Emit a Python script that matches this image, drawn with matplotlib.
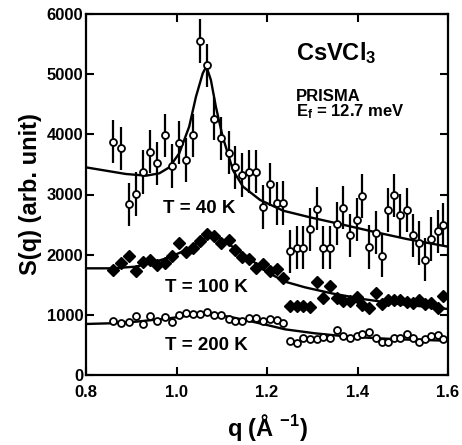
import matplotlib
matplotlib.use("Agg")
import matplotlib.pyplot as plt

plt.rcParams['font.family'] = ['Liberation Sans', 'DejaVu Sans']
plt.rcParams['font.weight'] = 'bold'
plt.rcParams['mathtext.fontset'] = 'custom'
plt.rcParams['mathtext.rm'] = 'Liberation Sans:bold'
plt.rcParams['mathtext.bf'] = 'Liberation Sans:bold'
plt.rcParams['mathtext.default'] = 'rm'

# ---- data ----
q = [0.860, 0.877, 0.894, 0.910, 0.927, 0.942, 0.958, 0.974, 0.990, 1.005,
     1.022, 1.037, 1.052, 1.067, 1.083, 1.099, 1.115, 1.130, 1.145, 1.161,
     1.176, 1.191, 1.207, 1.221, 1.236,
     1.251, 1.266, 1.280, 1.295, 1.310, 1.324, 1.339, 1.354, 1.369, 1.383,
     1.398, 1.411, 1.426, 1.441, 1.455, 1.467, 1.481, 1.495, 1.509, 1.523,
     1.537, 1.550, 1.563, 1.578, 1.590]

S40 = [3877, 3768, 2837, 3008, 3374, 3711, 3518, 3983, 3474, 3861,
       3573, 3983, 5551, 5147, 4260, 3933, 3695, 3452, 3324, 3379,
       3379, 2790, 3170, 2855, 2860,
       2055, 2116, 2116, 2421, 2767, 2118, 2118, 2515, 2781, 2319,
       2580, 2975, 2128, 2366, 1986, 2742, 2988, 2651, 2742, 2319,
       2194, 1916, 2258, 2390, 2500]
err40 = 360

S100 = [1740, 1856, 1985, 1730, 1884, 1905, 1822, 1865, 1985, 2194,
        2050, 2105, 2225, 2350, 2305, 2194, 2236, 2075, 1967, 1923,
        1773, 1853, 1735, 1756, 1617,
        1152, 1152, 1152, 1130, 1546, 1285, 1479, 1285, 1230, 1230,
        1291, 1158, 1119, 1357, 1180, 1246, 1246, 1246, 1213, 1196,
        1246, 1180, 1196, 1119, 1313]
err100 = 80

S200 = [897, 859, 881, 981, 848, 981, 892, 970, 881, 992,
        1036, 1008, 1014, 1047, 992, 1003, 936, 897, 897, 953,
        953, 905, 930, 914, 859,
        565, 527, 620, 603, 603, 637, 620, 748, 648, 620,
        648, 676, 715, 620, 548, 548, 609, 609, 687, 609,
        548, 592, 648, 659, 603]

# fit curves
qfit40 = [0.80, 0.844, 0.888, 0.933, 0.962, 0.984, 1.006, 1.028, 1.043, 1.058,
          1.066, 1.076, 1.087, 1.102, 1.125, 1.147, 1.185, 1.236, 1.295, 1.361,
          1.435, 1.509, 1.60]
Sfit40 = [3451, 3396, 3341, 3313, 3352, 3451, 3684, 4127, 4625, 5014,
          5130, 4903, 4460, 3961, 3400, 3130, 2908, 2730, 2621, 2510,
          2382, 2260, 2133]

qfit100 = [0.80, 0.859, 0.910, 0.947, 0.984, 1.021, 1.050, 1.073, 1.095, 1.124,
           1.161, 1.198, 1.240, 1.284, 1.343, 1.416, 1.490, 1.60]
Sfit100 = [1773, 1773, 1801, 1867, 1956, 2077, 2216, 2310, 2272, 2133,
           1939, 1720, 1551, 1457, 1357, 1258, 1180, 1097]

qfit200 = [0.80, 0.852, 0.910, 0.984, 1.035, 1.073, 1.117, 1.168, 1.20, 1.240,
           1.306, 1.380, 1.490, 1.60]
Sfit200 = [848, 859, 886, 942, 997, 1008, 969, 886, 831, 759,
           693, 637, 593, 570]

xticks = [0.8, 1.0, 1.2, 1.4, 1.6]
xticklabels = ['0.8', '1.0', '1.2', '1.4', '1.6']
yticks = [0, 1000, 2000, 3000, 4000, 5000, 6000]

# ---- figure ----
fig = plt.figure(figsize=(4.62, 4.45), dpi=100)
ax = fig.add_axes([86/462, 1-375/445, (448-86)/462, (375-14)/445])

ax.plot(qfit40, Sfit40, color='black', lw=1.7, zorder=2)
ax.plot(qfit100, Sfit100, color='black', lw=1.7, zorder=2)
ax.plot(qfit200, Sfit200, color='black', lw=1.7, zorder=2)

ax.errorbar(q, S40, yerr=err40, fmt='o', ms=5, mfc='white', mec='black',
            mew=1.3, ecolor='black', elinewidth=1.6, capsize=0, zorder=3)
ax.errorbar(q, S100, yerr=err100, fmt='D', ms=5.8, mfc='black', mec='black',
            mew=1.0, ecolor='black', elinewidth=1.6, capsize=0, zorder=3)
ax.plot(q, S200, 'o', ms=5, mfc='white', mec='black', mew=1.3, zorder=3)

ax.set_xlim(0.8, 1.6)
ax.set_ylim(0, 6000)
ax.set_xticks(xticks)
ax.set_xticklabels(xticklabels)
ax.set_yticks(yticks)
ax.tick_params(direction='in', length=6, width=1.5, top=True, right=True,
               labelsize=12, pad=2)
ax.tick_params(axis='x', pad=7)
for lab in ax.get_xticklabels() + ax.get_yticklabels():
    lab.set_fontweight('bold')
for sp in ax.spines.values():
    sp.set_linewidth(1.6)

ax.set_xlabel(r'q (Å $^{-1}$)', fontsize=17, fontweight='bold', labelpad=9)
ax.set_ylabel('S(q) (arb. unit)', fontsize=17, fontweight='bold', labelpad=3)

ax.text(1.264, 5235, r'CsVCl$_3$', fontsize=17, fontweight='bold', va='baseline')
ax.text(1.264, 4560, 'PRISMA', fontsize=12, fontweight='bold', va='baseline')
ax.text(1.264, 4293, r'E$_f$ = 12.7 meV', fontsize=12, fontweight='bold', va='baseline')
ax.text(0.970, 2692, 'T = 40 K', fontsize=13.5, fontweight='bold', va='baseline')
ax.text(0.975, 1379, 'T = 100 K', fontsize=13.5, fontweight='bold', va='baseline')
ax.text(0.975, 415, 'T = 200 K', fontsize=13.5, fontweight='bold', va='baseline')

fig.savefig('out.png', dpi=100)
